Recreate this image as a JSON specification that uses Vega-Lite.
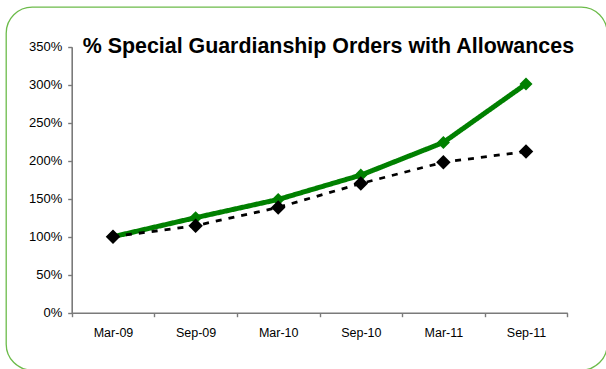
{
  "$schema": "https://vega.github.io/schema/vega-lite/v6.json",
  "width": 601,
  "height": 363,
  "autosize": {"type": "none"},
  "padding": {"left": 6, "top": 7, "right": 0, "bottom": 0},
  "background": "white",
  "config": {
    "view": {"stroke": "#6cbb4a", "strokeWidth": 1.3, "cornerRadius": 26},
    "font": "Liberation Sans"
  },
  "title": {
    "text": "% Special Guardianship Orders with Allowances",
    "anchor": "start",
    "frame": "group",
    "orient": "top",
    "offset": 0,
    "dx": 76.7,
    "dy": 67,
    "baseline": "alphabetic",
    "font": "Liberation Sans",
    "fontSize": 21.4,
    "fontWeight": "bold",
    "color": "black"
  },
  "data": {
    "values": [
      {"period": "Mar-09", "series": "actual", "value": 1.00},
      {"period": "Sep-09", "series": "actual", "value": 1.25},
      {"period": "Mar-10", "series": "actual", "value": 1.49},
      {"period": "Sep-10", "series": "actual", "value": 1.81},
      {"period": "Mar-11", "series": "actual", "value": 2.24},
      {"period": "Sep-11", "series": "actual", "value": 3.01},
      {"period": "Mar-09", "series": "trend", "value": 1.00},
      {"period": "Sep-09", "series": "trend", "value": 1.145},
      {"period": "Mar-10", "series": "trend", "value": 1.385},
      {"period": "Sep-10", "series": "trend", "value": 1.70},
      {"period": "Mar-11", "series": "trend", "value": 1.98},
      {"period": "Sep-11", "series": "trend", "value": 2.12}
    ]
  },
  "encoding": {
    "x": {
      "field": "period",
      "type": "ordinal",
      "sort": null,
      "scale": {"type": "band", "range": [65.7, 561.3], "paddingInner": 0, "paddingOuter": 0},
      "axis": {
        "title": null,
        "labelAngle": 0,
        "tickBand": "extent",
        "grid": false,
        "offset": -57.3,
        "domainColor": "#7a7a7a",
        "domainWidth": 1.6,
        "tickColor": "#7a7a7a",
        "tickWidth": 1.4,
        "tickSize": 4,
        "labelFont": "Liberation Sans",
        "labelFontSize": 12.5,
        "labelColor": "black",
        "labelPadding": 10
      }
    },
    "y": {
      "field": "value",
      "type": "quantitative",
      "scale": {"domain": [0, 3.5], "range": [305.7, 39.7], "nice": false, "zero": true},
      "axis": {
        "title": null,
        "values": [0, 0.5, 1, 1.5, 2, 2.5, 3, 3.5],
        "format": ".0%",
        "grid": false,
        "offset": -65.7,
        "domainColor": "#7a7a7a",
        "domainWidth": 1.6,
        "tickColor": "#7a7a7a",
        "tickWidth": 1.4,
        "tickSize": 4,
        "labelFont": "Liberation Sans",
        "labelFontSize": 13,
        "labelColor": "black",
        "labelPadding": 6
      }
    },
    "color": {
      "field": "series",
      "type": "nominal",
      "scale": {"domain": ["actual", "trend"], "range": ["#008000", "#000000"]},
      "legend": null
    }
  },
  "layer": [
    {
      "mark": {"type": "line", "strokeCap": "butt"},
      "encoding": {
        "strokeDash": {
          "field": "series",
          "type": "nominal",
          "scale": {"domain": ["actual", "trend"], "range": [[1, 0], [6, 7]]},
          "legend": null
        },
        "strokeWidth": {
          "field": "series",
          "type": "nominal",
          "scale": {"domain": ["actual", "trend"], "range": [5, 2.8]},
          "legend": null
        }
      }
    },
    {
      "mark": {"type": "point", "shape": "diamond", "filled": true, "opacity": 1},
      "encoding": {
        "size": {
          "field": "series",
          "type": "nominal",
          "scale": {"domain": ["actual", "trend"], "range": [170, 210]},
          "legend": null
        }
      }
    }
  ]
}
